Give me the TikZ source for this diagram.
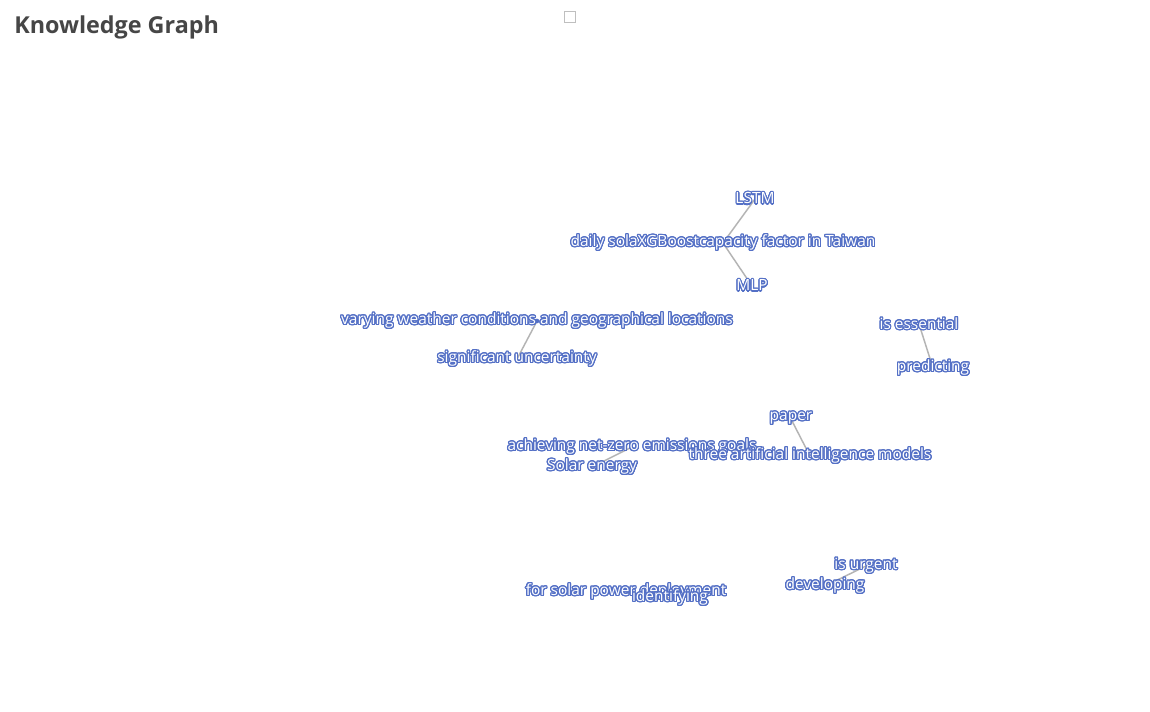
\documentclass[tikz,border=0pt]{standalone}
\usepackage{fontspec}
\setmainfont{Open Sans}
\usepackage{contour}
\contourlength{0.85pt}
\contournumber{24}
\usetikzlibrary{positioning}
\usetikzlibrary{backgrounds}
\definecolor{kgblue}{HTML}{5470C6}
\definecolor{kgedge}{HTML}{B4B4B4}
\definecolor{kgtitle}{HTML}{464646}
\newcommand{\kgfont}{\fontsize{11.6}{14}\selectfont}
\newcommand{\kglabel}[1]{\textcolor{white}{\contour{kgblue}{#1}}}
\newlength{\kgsola}

\begin{document}
\settowidth{\kgsola}{\kgfont daily sola}
\begin{tikzpicture}[x=0.75pt,y=0.75pt,
% Entity and label style
    ent/.style={inner sep=0pt,font=\kgfont},
    title/.style={inner sep=0pt,anchor=west,text=kgtitle,
		font=\bfseries\fontsize{17.5}{21}\selectfont},
% Relation style
    rel/.style={draw=kgedge,line width=1.1pt},
    dot/.style={circle,fill=kgblue,inner sep=0pt,minimum size=3.5pt}
    ]
  \useasboundingbox (0,0) rectangle (1150,-711);

  \node (title) [title] at (14,-27) {Knowledge Graph};
  \node (legend) [draw=black!25,line width=0.5pt,minimum size=8pt,inner sep=0pt] at (569.5,-16.5) {};

% Entities
  \node (lstm) [ent] at (755,-199) {\kglabel{LSTM}};
  \node (daily) [ent] at (723,-243) {\kglabel{daily sola\phantom{XGBoost}capacity factor in Taiwan}};
  \node (xgb) [ent,anchor=base west,xshift=\kgsola] at (daily.base west) {\kglabel{XGBoost}};
  \node (mlp) [ent] at (752,-286) {\kglabel{MLP}};
  \node (varying) [ent] at (537,-321) {\kglabel{varying weather conditions and geographical locations}};
  \node (uncert) [ent] at (517,-359) {\kglabel{significant uncertainty}};
  \node (essential) [ent] at (919,-324) {\kglabel{is essential}};
  \node (predict) [ent] at (933,-368) {\kglabel{predicting}};
  \node (paper) [ent] at (791,-419) {\kglabel{paper}};
  \node (netzero) [ent] at (632,-447) {\kglabel{achieving net-zero emissions goals}};
  \node (solar) [ent] at (592,-467) {\kglabel{Solar energy}};
  \node (models) [ent] at (810,-456) {\kglabel{three artificial intelligence models}};
  \node (urgent) [ent] at (866,-566) {\kglabel{is urgent}};
  \node (develop) [ent] at (825,-586) {\kglabel{developing}};
  \node (deploy) [ent] at (626,-592) {\kglabel{for solar power deployment}};
  \node (identify) [ent] at (670,-598) {\kglabel{identifying}};

% Relations
\begin{pgfonlayer}{background}
  \fill[white] (0,0) rectangle (1150,-711);
  \draw[rel] (lstm.center) -- (daily.center) -- (mlp.center);
  \draw[rel] (varying.center) -- (uncert.center);
  \draw[rel] (essential.center) -- (predict.center);
  \draw[rel] (paper.center) -- (models.center);
  \draw[rel] (netzero.center) -- (solar.center);
  \draw[rel] (urgent.center) -- (develop.center);
  \draw[rel] (deploy.center) -- (identify.center);
  \node [dot] at (varying.center) {};
\end{pgfonlayer}

\end{tikzpicture}
\end{document}
